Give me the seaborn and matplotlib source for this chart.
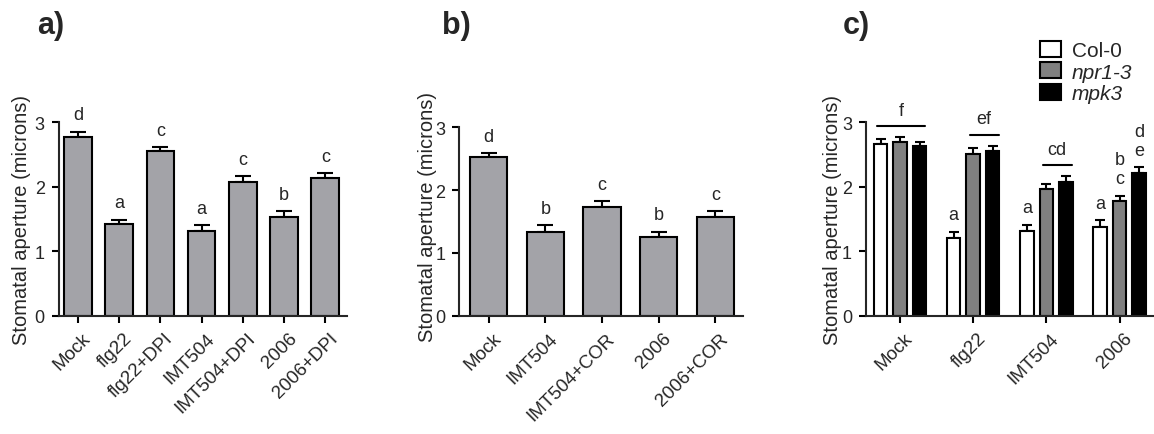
import numpy as np
import pandas as pd
import matplotlib
matplotlib.use("Agg")
import matplotlib.pyplot as plt
import matplotlib.transforms as mtransforms
import seaborn as sns

# ---------------- data ----------------
a_labels = ["Mock", "flg22", "flg22+DPI", "IMT504", "IMT504+DPI", "2006", "2006+DPI"]
a_means = [2.77, 1.42, 2.55, 1.32, 2.07, 1.53, 2.13]
a_sem = [0.08, 0.07, 0.06, 0.08, 0.09, 0.09, 0.08]
a_letters = ["d", "a", "c", "a", "c", "b", "c"]

b_labels = ["Mock", "IMT504", "IMT504+COR", "2006", "2006+COR"]
b_means = [2.52, 1.34, 1.73, 1.25, 1.57]
b_sem = [0.07, 0.10, 0.09, 0.09, 0.09]
b_letters = ["d", "b", "c", "b", "c"]

c_treatments = ["Mock", "flg22", "IMT504", "2006"]
c_genotypes = ["Col-0", "npr1-3", "mpk3"]
c_col0 = [2.67, 1.21, 1.31, 1.38]
c_col0_sem = [0.07, 0.09, 0.10, 0.10]
c_npr = [2.69, 2.51, 1.97, 1.78]
c_npr_sem = [0.08, 0.09, 0.08, 0.08]
c_mpk = [2.63, 2.56, 2.08, 2.21]
c_mpk_sem = [0.06, 0.08, 0.08, 0.09]
# letters above single bars (per genotype, per treatment); top letter first
c_col0_letters = ["", "a", "a", "a"]
c_npr_letters = ["", "", "", "b\nc"]
c_mpk_letters = ["", "", "", "d\ne"]
# letters shared by a group of bars (drawn over a line)
c_group_letters = ["f", "ef", "cd", ""]
c_group_first = [0, 1, 1, 0]   # index of first genotype under the line
c_group_last = [2, 2, 2, 0]    # index of last genotype under the line

ylabel = "Stomatal aperture (microns)"

# ---------------- style ----------------
sns.set_style("ticks")
plt.rcParams["font.family"] = ["Liberation Sans", "DejaVu Sans"]
plt.rcParams["axes.linewidth"] = 1.5

GRAY_AB = "#a3a3a8"
GRAY_C = "#808080"
W, H = 1154, 435
fig = plt.figure(figsize=(W / 100, H / 100), dpi=100)


def px_axes(left, right, y0, y3):
    return fig.add_axes([left / W, (H - y0) / H, (right - left) / W, (y0 - y3) / H])


ax_a = px_axes(58.7, 346.7, 316.7, 123.3)
ax_b = px_axes(459.3, 743.0, 316.7, 128.3)
ax_c = px_axes(866.0, 1154.0, 316.7, 123.3)

LETTER_FS = 13
TICK_FS = 13
XT_FS = 13.5
YL_FS = 14.5


def style_axes(ax, xlim, ylab_x, ylab_y=0.5):
    ax.set_ylim(0, 3)
    ax.set_xlim(*xlim)
    ax.set_yticks([0, 1, 2, 3])
    ax.set_yticklabels(["0", "1", "2", "3"])
    sns.despine(ax=ax)
    ax.spines["left"].set_linewidth(1.5)
    ax.spines["bottom"].set_linewidth(1.5)
    ax.tick_params(axis="both", width=1.5, length=5, color="black")
    ax.tick_params(axis="y", labelsize=TICK_FS, pad=5)
    ax.tick_params(axis="x", labelsize=XT_FS, pad=5)
    ax.set_xlabel("")
    ax.set_ylabel(ylabel, fontsize=YL_FS)
    ax.yaxis.set_label_coords(ylab_x, ylab_y)
    offset = mtransforms.ScaledTranslation(4 / 100, 0, fig.dpi_scale_trans)
    for lbl in ax.get_xticklabels():
        lbl.set_rotation(45)
        lbl.set_ha("right")
        lbl.set_va("top")
        lbl.set_rotation_mode("anchor")
        lbl.set_transform(lbl.get_transform() + offset)
    ax.set_facecolor("none")


def add_errorbars(ax, container, sem, capsize):
    xs = [p.get_x() + p.get_width() / 2 for p in container.patches]
    ys = [p.get_height() for p in container.patches]
    ax.errorbar(xs, ys, yerr=[np.zeros(len(sem)), sem], fmt="none", ecolor="black",
                elinewidth=1.5, capsize=capsize, capthick=1.5, zorder=1)
    return xs, [y + s for y, s in zip(ys, sem)]


def add_letters(ax, xs, tops, letters, offset=9.0):
    for x, t, l in zip(xs, tops, letters):
        if l:
            ax.annotate(l, (x, t), xytext=(0, offset), textcoords="offset points",
                        ha="center", va="baseline", fontsize=LETTER_FS,
                        linespacing=1.15, annotation_clip=False)


# ---------------- panel a ----------------
df_a = pd.DataFrame({"treatment": a_labels, "mean": a_means})
sns.barplot(data=df_a, x="treatment", y="mean", color=GRAY_AB, saturation=1,
            edgecolor="black", linewidth=1.5, width=0.67, errorbar=None, ax=ax_a, zorder=2)
xs, tops = add_errorbars(ax_a, ax_a.containers[0], a_sem, 5.5)
add_letters(ax_a, xs, tops, a_letters)
style_axes(ax_a, (-0.47, 6.52), -0.095)

# ---------------- panel b ----------------
df_b = pd.DataFrame({"treatment": b_labels, "mean": b_means})
sns.barplot(data=df_b, x="treatment", y="mean", color=GRAY_AB, saturation=1,
            edgecolor="black", linewidth=1.5, width=0.66, errorbar=None, ax=ax_b, zorder=2)
xs, tops = add_errorbars(ax_b, ax_b.containers[0], b_sem, 6)
add_letters(ax_b, xs, tops, b_letters)
style_axes(ax_b, (-0.52, 4.49), -0.078, 0.53)

# ---------------- panel c ----------------
df_c = pd.DataFrame({
    "treatment": c_treatments * 3,
    "genotype": sum([[g] * len(c_treatments) for g in c_genotypes], []),
    "mean": c_col0 + c_npr + c_mpk,
})
sns.barplot(data=df_c, x="treatment", y="mean", hue="genotype", hue_order=c_genotypes,
            palette=["white", GRAY_C, "black"], saturation=1, edgecolor="black",
            linewidth=1.5, width=0.8, gap=0.31, errorbar=None, ax=ax_c, zorder=2,
            legend=False)
bar_conts = list(ax_c.containers)
all_x, all_top = [], []
for cont, sem, lets in zip(bar_conts, [c_col0_sem, c_npr_sem, c_mpk_sem],
                           [c_col0_letters, c_npr_letters, c_mpk_letters]):
    xs, tops = add_errorbars(ax_c, cont, sem, 3.5)
    all_x.append(xs)
    all_top.append(tops)
    add_letters(ax_c, xs, tops, lets)

for i, lab in enumerate(c_group_letters):
    if not lab:
        continue
    g0, g1 = c_group_first[i], c_group_last[i]
    top = max(all_top[g][i] for g in range(g0, g1 + 1))
    yline = top + 0.17
    x0 = all_x[g0][i] - 0.05
    x1 = all_x[g1][i] + 0.08
    ax_c.plot([x0, x1], [yline, yline], color="black", lw=1.5, clip_on=False)
    ax_c.annotate(lab, ((x0 + x1) / 2, yline), xytext=(0, 8), textcoords="offset points",
                  ha="center", va="baseline", fontsize=LETTER_FS, annotation_clip=False)

style_axes(ax_c, (-0.465, 3.47), -0.083)

handles = [cont.patches[0] for cont in bar_conts]
leg = fig.legend(handles, c_genotypes, loc="upper left", bbox_to_anchor=(0.9015, 0.903),
                 frameon=False, fontsize=15, handlelength=1.0, handleheight=0.8,
                 handletextpad=0.5, labelspacing=0.1, borderpad=0, borderaxespad=0)
for t in leg.get_texts()[1:]:
    t.set_style("italic")

# ---------------- panel labels ----------------
for xpx, lab in [(37, "a)"), (441.7, "b)"), (843, "c)")]:
    fig.text(xpx / W, (H - 34) / H, lab, fontsize=22, fontweight="bold",
             ha="left", va="baseline")

fig.savefig("out.png", dpi=100)
